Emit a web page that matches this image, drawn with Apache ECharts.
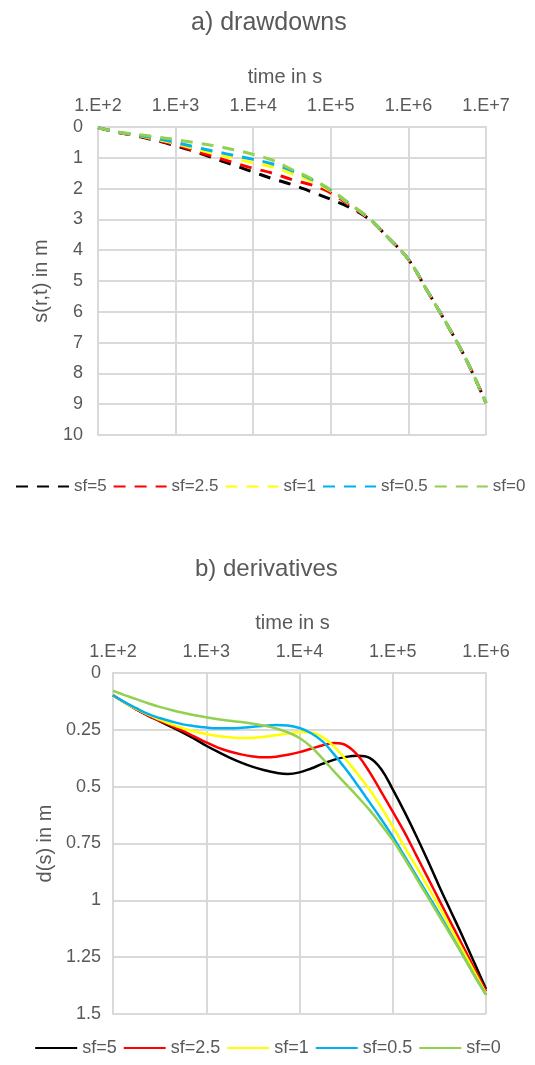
<!DOCTYPE html>
<html><head><meta charset="utf-8">
<script src="https://cdn.jsdelivr.net/npm/echarts@6/dist/echarts.min.js"></script>
<style>html,body{margin:0;padding:0;background:#fff}#c{width:535px;height:1065px}</style>
</head><body><div id="c"></div>
<script>
// ---- data ----
const seriesNames = ['sf=5', 'sf=2.5', 'sf=1', 'sf=0.5', 'sf=0'];
const seriesColors = ['#000000', '#ff0000', '#ffff00', '#00b0f0', '#92d050'];

// a) drawdowns
const timeA = [100, 178, 316, 562, 1000, 1778, 3162, 5623, 10000, 17783, 31623, 56234,
  100000, 177828, 316228, 562341, 1000000, 1778279, 3162278, 5623413, 10000000];
const drawSf5  = [0.02, 0.17, 0.29, 0.44, 0.61, 0.80, 1.02, 1.24, 1.46, 1.68, 1.87, 2.10, 2.35, 2.62, 3.01, 3.62, 4.30, 5.35, 6.42, 7.58, 8.96];
const drawSf25 = [0.02, 0.17, 0.28, 0.43, 0.58, 0.78, 0.97, 1.16, 1.34, 1.50, 1.71, 1.88, 2.14, 2.56, 3.00, 3.62, 4.30, 5.35, 6.42, 7.58, 8.96];
const drawSf1  = [0.02, 0.16, 0.27, 0.40, 0.54, 0.71, 0.87, 1.02, 1.16, 1.30, 1.52, 1.76, 2.08, 2.52, 2.99, 3.62, 4.30, 5.35, 6.42, 7.58, 8.96];
const drawSf05 = [0.02, 0.16, 0.26, 0.37, 0.50, 0.65, 0.79, 0.92, 1.05, 1.20, 1.42, 1.70, 2.05, 2.51, 2.98, 3.62, 4.30, 5.35, 6.42, 7.58, 8.96];
const drawSf0  = [0.02, 0.16, 0.24, 0.32, 0.41, 0.51, 0.61, 0.74, 0.89, 1.08, 1.38, 1.68, 2.04, 2.50, 2.98, 3.62, 4.30, 5.35, 6.42, 7.58, 8.96];
const tickLabelsA = ['1.E+2', '1.E+3', '1.E+4', '1.E+5', '1.E+6', '1.E+7'];

// b) derivatives
const timeB = [100, 133, 178, 237, 316, 422, 562, 750, 1000, 1334, 1778, 2371, 3162, 4217, 5623, 7499,
  10000, 13335, 17783, 23714, 31623, 42170, 56234, 74989, 100000, 133352, 177828, 237137,
  316228, 421697, 562341, 749894, 1000000];
const derSf5  = [0.098, 0.130, 0.160, 0.187, 0.212, 0.237, 0.262, 0.290, 0.320, 0.347, 0.372, 0.394, 0.413, 0.428, 0.439, 0.444,
  0.437, 0.420, 0.399, 0.381, 0.369, 0.364, 0.373, 0.422, 0.512, 0.610, 0.715, 0.825, 0.940, 1.050, 1.160, 1.275, 1.390];
const derSf25 = [0.098, 0.130, 0.160, 0.186, 0.210, 0.232, 0.255, 0.280, 0.305, 0.328, 0.345, 0.358, 0.367, 0.371, 0.368, 0.360,
  0.348, 0.333, 0.318, 0.308, 0.318, 0.362, 0.435, 0.522, 0.610, 0.700, 0.800, 0.900, 1.000, 1.100, 1.200, 1.300, 1.400];
const derSf1  = [0.098, 0.130, 0.158, 0.183, 0.205, 0.226, 0.243, 0.257, 0.268, 0.277, 0.283, 0.286, 0.285, 0.280, 0.274, 0.266,
  0.259, 0.262, 0.283, 0.325, 0.382, 0.445, 0.512, 0.590, 0.675, 0.765, 0.850, 0.940, 1.030, 1.125, 1.220, 1.315, 1.410];
const derSf05 = [0.098, 0.128, 0.155, 0.180, 0.198, 0.213, 0.226, 0.234, 0.240, 0.243, 0.243, 0.241, 0.237, 0.232, 0.229, 0.231,
  0.242, 0.265, 0.302, 0.360, 0.425, 0.495, 0.568, 0.642, 0.720, 0.805, 0.890, 0.975, 1.060, 1.150, 1.240, 1.330, 1.415];
const derSf0  = [0.078, 0.097, 0.115, 0.133, 0.149, 0.163, 0.175, 0.186, 0.195, 0.203, 0.210, 0.216, 0.223, 0.232, 0.244, 0.261,
  0.286, 0.325, 0.378, 0.435, 0.490, 0.545, 0.602, 0.667, 0.735, 0.815, 0.900, 0.985, 1.070, 1.155, 1.240, 1.330, 1.415];
const tickLabelsB = ['1.E+2', '1.E+3', '1.E+4', '1.E+5', '1.E+6'];

// ---- chart ----
const FONT = 'Liberation Sans, Arial, sans-serif';
const TXT = '#595959';
const GRID = '#d9d9d9';
const chart = echarts.init(document.getElementById('c'));
const drawSets = [drawSf5, drawSf25, drawSf1, drawSf05, drawSf0];
const derSets = [derSf5, derSf25, derSf1, derSf05, derSf0];

const zip = (xs, ys) => xs.map((x, i) => [x, ys[i]]);
const series = [];
seriesNames.forEach((n, i) => {
  series.push({
    name: 'a:' + n, type: 'line', xAxisIndex: 0, yAxisIndex: 0,
    data: zip(timeA, drawSets[i]), smooth: 0.4, symbol: 'none', animation: false,
    lineStyle: { color: seriesColors[i], width: 3, type: [12, 9] },
    itemStyle: { color: seriesColors[i] }
  });
});
seriesNames.forEach((n, i) => {
  series.push({
    name: 'b:' + n, type: 'line', xAxisIndex: 1, yAxisIndex: 1,
    data: zip(timeB, derSets[i]), smooth: 0.4, symbol: 'none', animation: false,
    lineStyle: { color: seriesColors[i], width: 2.5 },
    itemStyle: { color: seriesColors[i] }
  });
});

function xAxisCfg(gridIndex, maxV, labels) {
  return {
    gridIndex, type: 'log', logBase: 10, min: 100, max: maxV, position: 'top',
    name: 'time in s', nameLocation: 'middle', nameGap: 40,
    nameTextStyle: { fontSize: 20, color: TXT, fontFamily: FONT, padding: [0, 14, 0, 0] },
    axisLine: { show: true, lineStyle: { color: GRID, width: 2 } },
    axisTick: { show: false },
    axisLabel: { fontSize: 18, color: TXT, fontFamily: FONT, margin: 12,
      formatter: v => labels[Math.round(Math.log10(v)) - 2] },
    splitLine: { show: true, lineStyle: { color: GRID, width: 2 } },
    minorTick: { show: false }, minorSplitLine: { show: false }
  };
}
function yAxisCfg(gridIndex, maxV, step, name, gap, margin) {
  return {
    gridIndex, type: 'value', inverse: true, min: 0, max: maxV, interval: step,
    name, nameLocation: 'middle', nameGap: gap,
    nameTextStyle: { fontSize: 20, color: TXT, fontFamily: FONT },
    axisLine: { show: true, lineStyle: { color: GRID, width: 2 } },
    axisTick: { show: false },
    axisLabel: { fontSize: 18, color: TXT, fontFamily: FONT, margin },
    splitLine: { show: true, lineStyle: { color: GRID, width: 2 } }
  };
}

chart.setOption({
  backgroundColor: '#ffffff',
  animation: false,
  title: [
    { text: 'a) drawdowns', left: 186, top: 6,
      textStyle: { fontSize: 25, fontWeight: 'normal', color: TXT, fontFamily: FONT } },
    { text: 'b) derivatives', left: 190, top: 552,
      textStyle: { fontSize: 24, fontWeight: 'normal', color: TXT, fontFamily: FONT } }
  ],
  grid: [
    { left: 98, top: 127, width: 388, height: 308, outerBoundsMode: 'none', containLabel: false },
    { left: 113, top: 673, width: 373, height: 341, outerBoundsMode: 'none', containLabel: false }
  ],
  xAxis: [xAxisCfg(0, 1e7, tickLabelsA), xAxisCfg(1, 1e6, tickLabelsB)],
  yAxis: [yAxisCfg(0, 10, 1, 's(r,t) in m', 47, 15), yAxisCfg(1, 1.5, 0.25, 'd(s) in m', 56, 12)],
  legend: [
    { data: seriesNames.map(n => 'a:' + n), left: 10, top: 473, width: 700,
      itemWidth: 53, itemHeight: 14, itemGap: 6,
      itemStyle: { opacity: 0 },
      formatter: n => n.slice(2),
      textStyle: { fontSize: 17, color: TXT, fontFamily: FONT } },
    { data: seriesNames.map(n => 'b:' + n), left: 'center', top: 1034, width: 700,
      itemWidth: 42, itemHeight: 14, itemGap: 6,
      itemStyle: { opacity: 0 },
      formatter: n => n.slice(2),
      textStyle: { fontSize: 18, color: TXT, fontFamily: FONT } }
  ],
  series
});
</script></body></html>
